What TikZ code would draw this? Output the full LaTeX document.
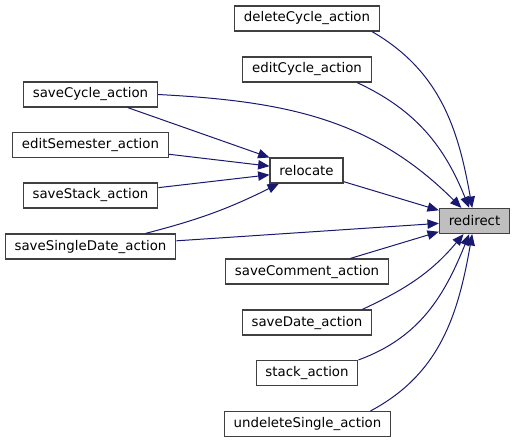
\documentclass[tikz,border=0pt]{standalone}
\usepackage{fontspec}
\setmainfont{DejaVu Sans}
\usetikzlibrary{arrows.meta}
\definecolor{edgeblue}{HTML}{191970}
\definecolor{boxline}{HTML}{404040}
\definecolor{hitgray}{HTML}{BFBFBF}
\begin{document}
\begin{tikzpicture}[x=0.75pt, y=-0.75pt,
    every node/.style={rectangle, draw=boxline, line width=0.9pt, fill=white, font=\fontsize{10}{12}\selectfont, inner xsep=7pt, inner ysep=0pt, minimum height=18.75pt},
    callarrow/.style={edgeblue, line width=0.75pt, -{Triangle[length=8.5pt, width=7pt]}}]
    \path[use as bounding box] (0,0) rectangle (516,443);
    \node (deleteCycle) at (307,18.5)    {deleteCycle\_action};
    \node (editCycle) at (307,69.5)      {editCycle\_action};
    \node (saveCycle) at (90.5,94.5)     {saveCycle\_action};
    \node (editSemester) at (90.5,145)   {editSemester\_action};
    \node (relocate) at (306.5,170.5)    {relocate};
    \node (saveStack) at (90.5,195.5)    {saveStack\_action};
    \node[fill=hitgray] (redirect) at (474.5,221) {redirect};
    \node (saveSingleDate) at (90.5,246.5) {saveSingleDate\_action};
    \node (saveComment) at (307,271.5)   {saveComment\_action};
    \node (saveDate) at (307,322.5)      {saveDate\_action};
    \node (stack) at (307,373)           {stack\_action};
    \node (undeleteSingle) at (307.5,424) {undeleteSingle\_action};

    % calls into relocate
    \draw[callarrow] (saveCycle) -- (relocate);
    \draw[callarrow] (editSemester) -- (relocate);
    \draw[callarrow] (saveStack) -- (relocate);
    \draw[callarrow] (saveSingleDate) to[bend right=6] (relocate);

    % calls into redirect
    \draw[callarrow] ([xshift=-6pt]deleteCycle.south east) to[out=-30, in=100] (redirect);
    \draw[callarrow] ([xshift=-11pt]editCycle.south east) to[out=-25, in=112] (redirect);
    \draw[callarrow] (saveCycle.east) to[out=-3, in=135] (redirect);
    \draw[callarrow] (relocate) -- (redirect);
    \draw[callarrow] (saveSingleDate) -- (redirect);
    \draw[callarrow] (saveComment) -- (redirect);
    \draw[callarrow] ([xshift=-7.5pt]saveDate.north east) to[out=25, in=-130] (redirect);
    \draw[callarrow] (stack.north east) to[out=20, in=-112] (redirect);
    \draw[callarrow] ([xshift=-15.5pt]undeleteSingle.north east) to[out=28, in=-100] (redirect);
    \end{tikzpicture}
\end{document}
